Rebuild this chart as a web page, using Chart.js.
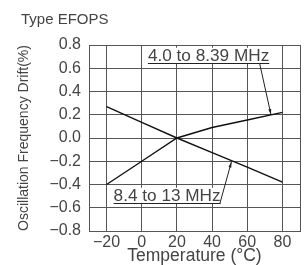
<!DOCTYPE html>
<html>
<head>
<meta charset="utf-8">
<script src="https://cdn.jsdelivr.net/npm/chart.js@4.4.1/dist/chart.umd.min.js"></script>
<style>
  html, body { margin: 0; padding: 0; background: #fff; }
  #wrap { width: 306px; height: 265px; }
</style>
</head>
<body>
<div id="wrap"><canvas id="drift-chart" width="306" height="265"></canvas></div>
<script>
// Temperature points (deg C)
const temps = [-20, 0, 20, 40, 60, 80];
// Oscillation frequency drift (%)
const driftLowBand = [-0.4, -0.2, 0, 0.09, 0.155, 0.22];   // 4.0 to 8.39 MHz
const driftHighBand = [0.27, 0.135, 0, -0.125, -0.25, -0.38]; // 8.4 to 13 MHz
const bandNames = ['4.0 to 8.39 MHz', '8.4 to 13 MHz'];
// Axis ticks
const xTicks = [-20, 0, 20, 40, 60, 80];
const yTicks = [0.8, 0.6, 0.4, 0.2, 0, -0.2, -0.4, -0.6, -0.8];

const FONT = '"Liberation Sans", Arial, sans-serif';
const TEXT = '#444';
const GRID = '#555';

function fmt(v) {
    return v.toFixed(1).replace('-', '\u2212');
}

// leader labels: text anchor + arrow tip, in data units
const callouts = [
    { text: bandNames[0], x: 3.5, y: 0.665, from: [67, 0.645], to: [73.5, 0.2] },
    { text: bandNames[1], x: -16, y: -0.54, from: [44.4, -0.565], to: [51, -0.205] }
];

const calloutPlugin = {
    id: 'callouts',
    beforeDatasetsDraw(chart) {
        const ctx = chart.ctx;
        const xs = chart.scales.x;
        const ys = chart.scales.y;
        ctx.save();
        ctx.font = '17.2px ' + FONT;
        callouts.forEach(c => {
            const px = xs.getPixelForValue(c.x);
            const py = ys.getPixelForValue(c.y);
            const w = ctx.measureText(c.text).width;
            ctx.fillStyle = '#fff';
            ctx.fillRect(px - 1, py - 13, w + 2, 16);
            ctx.fillStyle = TEXT;
            ctx.textBaseline = 'alphabetic';
            ctx.fillText(c.text, px, py);
            // underline
            ctx.strokeStyle = '#222';
            ctx.lineWidth = 1;
            ctx.beginPath();
            ctx.moveTo(px, Math.round(py + 2) + 0.5);
            ctx.lineTo(px + w, Math.round(py + 2) + 0.5);
            ctx.stroke();
            // leader with arrow
            const x1 = xs.getPixelForValue(c.from[0]);
            const y1 = ys.getPixelForValue(c.from[1]);
            const x2 = xs.getPixelForValue(c.to[0]);
            const y2 = ys.getPixelForValue(c.to[1]);
            ctx.beginPath();
            ctx.moveTo(x1, y1);
            ctx.lineTo(x2, y2);
            ctx.stroke();
            const ang = Math.atan2(y2 - y1, x2 - x1);
            ctx.fillStyle = '#222';
            ctx.beginPath();
            ctx.moveTo(x2, y2);
            ctx.lineTo(x2 - 6 * Math.cos(ang - 0.25), y2 - 6 * Math.sin(ang - 0.25));
            ctx.lineTo(x2 - 6 * Math.cos(ang + 0.25), y2 - 6 * Math.sin(ang + 0.25));
            ctx.closePath();
            ctx.fill();
        });
        ctx.restore();
    }
};

const ctx = document.getElementById('drift-chart').getContext('2d');
new Chart(ctx, {
    type: 'line',
    data: {
        datasets: [{
            label: bandNames[0],
            data: temps.map((t, i) => ({ x: t, y: driftLowBand[i] })),
            borderColor: '#111',
            borderWidth: 1.4,
            pointRadius: 0,
            tension: 0
        }, {
            label: bandNames[1],
            data: temps.map((t, i) => ({ x: t, y: driftHighBand[i] })),
            borderColor: '#111',
            borderWidth: 1.4,
            pointRadius: 0,
            tension: 0
        }]
    },
    options: {
        responsive: false,
        animation: false,
        events: [],
        layout: { padding: { left: 21, right: 6, top: 0, bottom: 0 } },
        plugins: {
            legend: { display: false },
            tooltip: { enabled: false },
            title: {
                display: true,
                text: 'Type EFOPS',
                align: 'start',
                color: TEXT,
                font: { family: FONT, size: 15, weight: 'normal' },
                padding: { top: 11, bottom: 16 }
            }
        },
        scales: {
            x: {
                type: 'linear',
                min: -30,
                max: 90,
                afterBuildTicks: scale => {
                    scale.ticks = xTicks.concat([90]).map(v => ({ value: v }));
                },
                afterFit: scale => { scale.height = 34; },
                ticks: {
                    color: TEXT,
                    padding: 2,
                    maxRotation: 0,
                    font: { family: FONT, size: 16 },
                    callback: v => xTicks.includes(v) ? fmt(v).replace('.0', '') : ''
                },
                grid: { color: GRID, lineWidth: 1, drawTicks: false },
                border: { color: GRID, width: 1 },
                title: {
                    display: true,
                    text: 'Temperature (\u00b0C)',
                    color: TEXT,
                    font: { family: FONT, size: 17.5 },
                    padding: { top: 0, bottom: -2 }
                }
            },
            y: {
                type: 'linear',
                min: -0.8,
                max: 0.8,
                afterBuildTicks: scale => {
                    scale.ticks = yTicks.map(v => ({ value: v }));
                },
                afterFit: scale => { scale.width = 68; },
                ticks: {
                    color: TEXT,
                    padding: 8,
                    font: { family: FONT, size: 16 },
                    callback: v => fmt(v)
                },
                grid: { color: GRID, lineWidth: 1, drawTicks: false },
                border: { color: GRID, width: 1 },
                title: {
                    display: true,
                    text: 'Oscillation Frequency Drift(%)',
                    color: TEXT,
                    font: { family: FONT, size: 14 },
                    padding: { top: -5, bottom: 0 }
                }
            }
        }
    },
    plugins: [calloutPlugin]
});
</script>
</body>
</html>
